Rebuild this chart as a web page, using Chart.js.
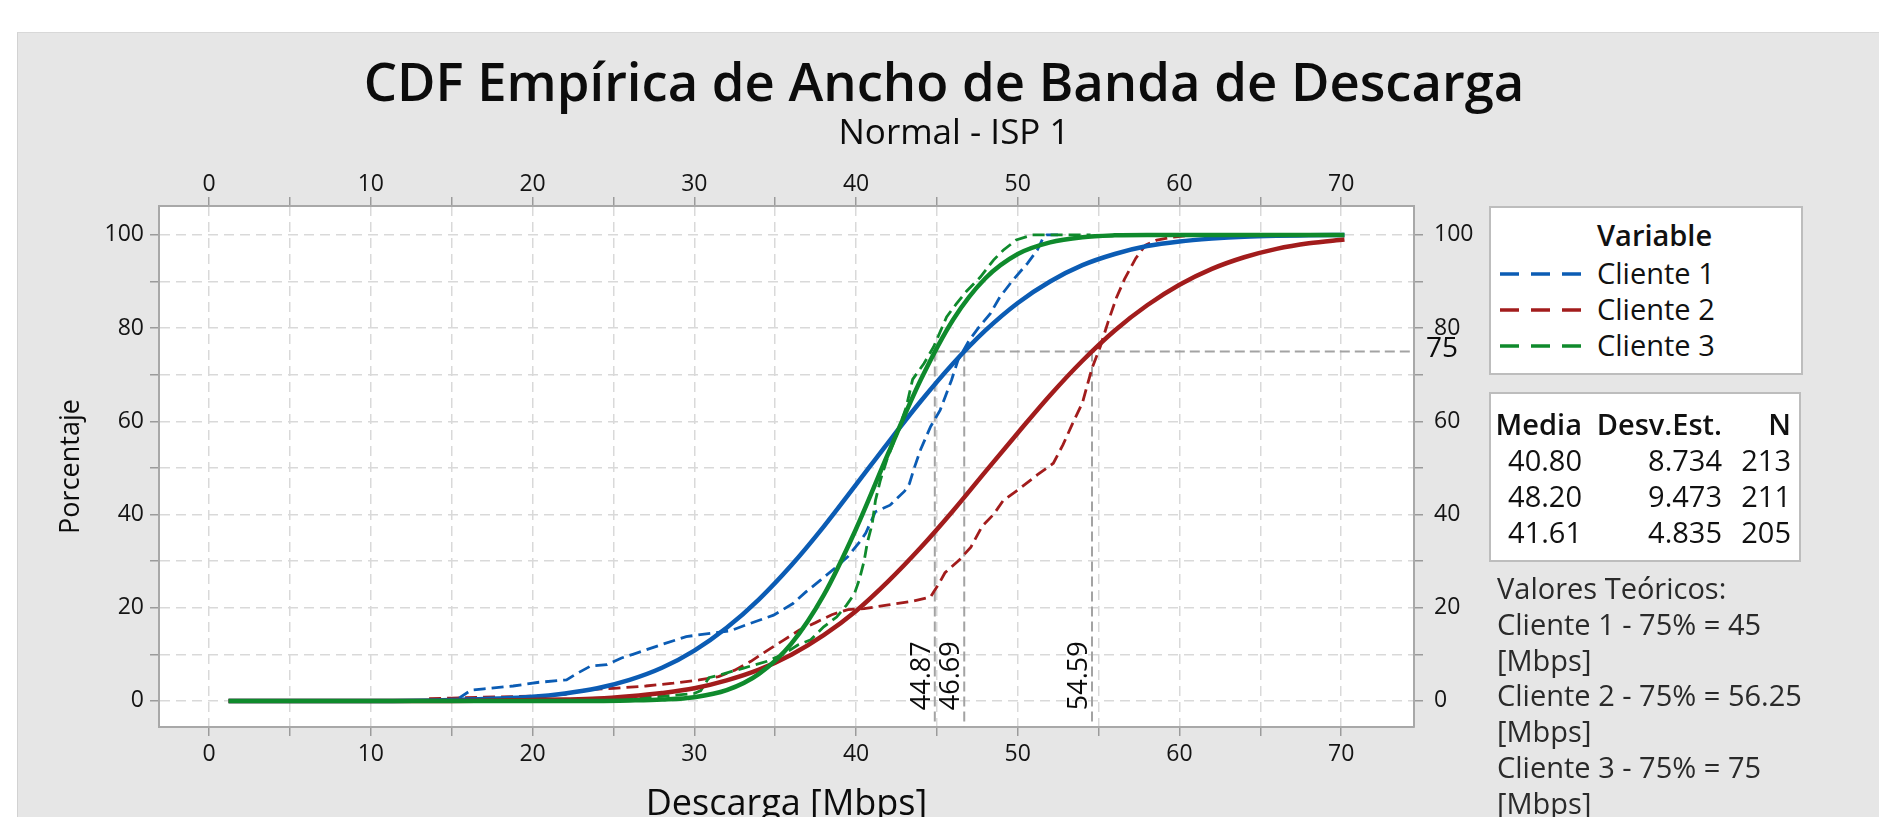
<!DOCTYPE html>
<html lang="es">
<head>
<meta charset="utf-8">
<title>CDF Empírica de Ancho de Banda de Descarga</title>
<script src="https://cdn.jsdelivr.net/npm/chart.js@4.4.1/dist/chart.umd.min.js"></script>
<style>
  body { margin: 0; background: #fff; }
  #wrap { position: relative; width: 1879px; height: 817px; overflow: hidden; background: #fff;
          font-family: "Open Sans", sans-serif; color: #111; }
  #panel { position: absolute; left: 17px; top: 32px; right: 0; bottom: 0; background: #e6e6e6;
           border-left: 1px solid #d2d2d2; border-top: 1px solid #d8d8d8; }
  #cdfChart { position: absolute; left: 0; top: 0; }
  .txt { position: absolute; white-space: nowrap; line-height: 1; }
  #mainTitle { left: 944px; top: 55px; transform: translateX(-50%); font-size: 52.6px; font-weight: 600; color: #0c0c0c; }
  #subTitle { left: 954px; top: 113px; transform: translateX(-50%); font-size: 35px; font-weight: 500; color: #0c0c0c; }
  .box { position: absolute; left: 1489px; background: #fff; border: 2px solid #bdbdbd; box-sizing: border-box; }
  #legendBox { top: 206px; width: 314px; height: 169px; }
  #statsBox { top: 392px; width: 312px; height: 170px; }
  .side { font-size: 29px; font-weight: 500; }
  .head { font-weight: 600; }
  #notes { position: absolute; left: 1497px; top: 570px; font-size: 29px; line-height: 35.8px; color: #2a2a2a; white-space: nowrap; }
</style>
</head>
<body>
<div id="wrap">
  <div id="panel"></div>
  <canvas id="cdfChart" width="1879" height="817"></canvas>
  <div id="mainTitle" class="txt">CDF Empírica de Ancho de Banda de Descarga</div>
  <div id="subTitle" class="txt">Normal - ISP 1</div>
  <div id="legendBox" class="box"></div>
  <div id="statsBox" class="box"></div>
  <div id="side"></div>
  <div id="notes"></div>
</div>
<script>
// Series names and summary table
const seriesNames = ["Cliente 1", "Cliente 2", "Cliente 3"];
const statMedia = ["40.80", "48.20", "41.61"];
const statDesv = ["8.734", "9.473", "4.835"];
const statN = ["213", "211", "205"];
const noteLines = ["Valores Teóricos:", "Cliente 1 - 75% = 45", "[Mbps]", "Cliente 2 - 75% = 56.25", "[Mbps]", "Cliente 3 - 75% = 75", "[Mbps]"];

// Axis ticks (grid every 5 / 10, labels every 10 / 20)
const xGrid = [0, 5, 10, 15, 20, 25, 30, 35, 40, 45, 50, 55, 60, 65, 70];
const yGrid = [0, 10, 20, 30, 40, 50, 60, 70, 80, 90, 100];

// Fitted normal CDFs (solid)
const fitX = [1.2, 5, 10, 15, 20, 22, 24, 26, 28, 30, 32, 34, 36, 38, 40, 42, 44, 46, 48, 50, 52, 54, 56, 58, 60, 62, 64, 66, 68, 70.2];
const fitCliente1 = [0, 0, 0, 0.2, 0.9, 1.6, 2.7, 4.5, 7.1, 10.8, 15.7, 21.8, 29.1, 37.4, 46.4, 55.5, 64.3, 72.4, 79.5, 85.4, 90.0, 93.5, 95.9, 97.6, 98.6, 99.2, 99.6, 99.8, 99.9, 100];
const fitCliente2 = [0, 0, 0, 0, 0.2, 0.3, 0.5, 1.0, 1.7, 2.7, 4.4, 6.7, 9.9, 14.1, 19.3, 25.7, 32.9, 40.8, 49.2, 57.5, 65.6, 73.0, 79.5, 84.9, 89.3, 92.7, 95.2, 97.0, 98.2, 99.0];
const fitCliente3 = [0, 0, 0, 0, 0, 0, 0, 0.1, 0.3, 0.8, 2.3, 5.8, 12.3, 22.7, 36.9, 53.2, 68.9, 81.8, 90.7, 95.9, 98.4, 99.5, 99.9, 100, 100, 100, 100, 100, 100, 100];

// Empirical CDFs (dashed)
const empX1 = [15.4, 16.2, 17.0, 18.8, 20.4, 22.1, 22.7, 23.6, 24.6, 25.5, 26.2, 27.9, 29.5, 31.2, 32.2, 33.2, 34.9, 36.1, 36.9, 37.8, 38.8, 39.5, 40.2, 40.6, 41.2, 42.1, 43.0, 43.3, 43.6, 44.0, 44.6, 45.2, 45.9, 46.3, 47.0, 47.6, 48.3, 48.9, 49.7, 50.6, 51.2, 51.6, 51.8, 52.5];
const empY1 = [0.5, 2.3, 2.6, 3.2, 4.0, 4.5, 5.8, 7.5, 7.8, 9.2, 10.0, 12.0, 13.8, 14.6, 15.0, 16.3, 18.4, 20.9, 23.4, 25.9, 28.8, 31.0, 34.0, 36.0, 40.6, 42.0, 45.0, 46.6, 50.0, 54.0, 58.8, 62.4, 68.8, 73.1, 77.4, 80.2, 83.1, 86.7, 90.3, 93.9, 96.7, 99.6, 100, 100];
const empX2 = [13.6, 15.0, 17.0, 20.0, 22.0, 23.3, 25.0, 27.0, 28.7, 30.3, 31.5, 32.5, 33.5, 34.5, 35.5, 36.5, 37.5, 38.5, 39.5, 40.5, 42.0, 43.5, 44.6, 45.1, 45.5, 46.4, 47.1, 47.8, 48.5, 49.1, 50.1, 51.2, 52.2, 52.8, 53.4, 54.0, 54.6, 55.1, 55.6, 56.1, 56.6, 57.3, 57.9, 58.6, 59.5, 61.0];
const empY2 = [0.5, 0.6, 0.8, 1.0, 1.4, 2.4, 2.7, 3.2, 3.8, 4.5, 5.2, 6.6, 8.5, 10.8, 13.0, 15.2, 16.8, 18.5, 19.6, 19.8, 20.6, 21.4, 22.3, 25.0, 27.5, 30.3, 33.0, 37.5, 40.0, 43.0, 45.5, 48.5, 51.0, 55.0, 59.6, 64.0, 71.5, 76.0, 81.5, 86.5, 90.5, 95.0, 97.8, 98.9, 99.5, 100];
const empX3 = [25.5, 28.0, 30.0, 30.4, 30.9, 31.5, 33.0, 34.5, 35.5, 36.4, 37.2, 38.0, 38.8, 39.4, 39.9, 40.2, 40.5, 40.7, 41.0, 41.2, 41.5, 41.9, 42.5, 43.1, 43.5, 44.2, 44.8, 45.6, 46.2, 46.8, 47.7, 48.5, 49.1, 49.9, 50.9, 54.5];
const empY3 = [0.5, 1.0, 1.6, 2.2, 5.0, 5.5, 7.0, 8.5, 10.0, 12.0, 13.1, 15.9, 18.0, 20.5, 23.0, 26.0, 30.0, 34.0, 38.0, 43.0, 47.3, 51.7, 57.0, 63.0, 69.0, 72.4, 76.0, 82.4, 85.2, 87.8, 91.0, 94.6, 96.7, 98.9, 100, 100];

// 75th percentile reference
const refPct = 75;
const refX = [44.87, 46.69, 54.59];

const xMin = -3.1, xMax = 74.5, yMin = -5.6, yMax = 106.2;
const family = "'Open Sans', sans-serif";
const colors = ["#0b5cb4", "#a21c1c", "#0f8a2c"];

function pts(xs, ys) {
  return xs.map((x, i) => ({ x, y: ys[i] }));
}

// Side texts: legend, stats table, notes
const side = document.getElementById("side");
function addText(html, style, cls) {
  const d = document.createElement("div");
  d.className = "txt side " + (cls || "");
  d.innerHTML = html;
  Object.assign(d.style, style);
  side.appendChild(d);
}
addText("Variable", { left: "1597px", top: "220px" }, "head");
seriesNames.forEach((name, i) => {
  const cy = 273 + 36.2 * i;
  addText(name, { left: "1597px", top: (257.5 + 36.2 * i) + "px" });
  const svg = `<svg width="84" height="10"><line x1="0" y1="5" x2="84" y2="5" stroke="${colors[i]}" stroke-width="3.3" stroke-dasharray="19 12"/></svg>`;
  addText(svg, { left: "1500px", top: (cy - 5) + "px", lineHeight: "0" });
});
const colRight = [1879 - 1582, 1879 - 1722, 1879 - 1791];
["Media", "Desv.Est.", "N"].forEach((h, c) => {
  addText(h, { right: colRight[c] + "px", top: "409px" }, "head");
});
statMedia.forEach((m, i) => {
  const top = (445 + 36.2 * i) + "px";
  addText(m, { right: colRight[0] + "px", top });
  addText(statDesv[i], { right: colRight[1] + "px", top });
  addText(statN[i], { right: colRight[2] + "px", top });
});
document.getElementById("notes").innerHTML = noteLines.join("<br>");

// White plot area
const plotBackground = {
  id: "plotBackground",
  beforeDraw(chart) {
    const { ctx, chartArea: a } = chart;
    ctx.save();
    ctx.fillStyle = "#ffffff";
    ctx.fillRect(a.left, a.top, a.right - a.left, a.bottom - a.top);
    ctx.restore();
  }
};

// Percentile labels on the vertical lines and the 75 mark on the right axis
const refLabels = {
  id: "refLabels",
  afterDatasetsDraw(chart) {
    const { ctx, scales: { x, y }, chartArea } = chart;
    ctx.save();
    ctx.fillStyle = "#0c0c0c";
    ctx.font = `500 27px ${family}`;
    ctx.textAlign = "left";
    ctx.textBaseline = "alphabetic";
    refX.forEach(v => {
      ctx.save();
      ctx.translate(x.getPixelForValue(v) - 5, y.getPixelForValue(-2));
      ctx.rotate(-Math.PI / 2);
      ctx.fillText(v.toFixed(2), 0, 0);
      ctx.restore();
    });
    ctx.font = `500 28px ${family}`;
    ctx.textBaseline = "middle";
    ctx.fillText(String(refPct), chartArea.right + 12, y.getPixelForValue(refPct) - 2);
    ctx.restore();
  }
};

function xAxis(position) {
  const top = position === "top";
  return {
    type: "linear", position, min: xMin, max: xMax,
    afterBuildTicks: s => { s.ticks = xGrid.map(v => ({ value: v })); },
    afterFit: s => { s.height = top ? 50 : 90; },
    ticks: {
      font: { family, size: 23, weight: 500 }, color: "#141414", padding: top ? -1.5 : 5,
      maxRotation: 0, autoSkip: false,
      callback: v => (v % 10 === 0 ? v : "")
    },
    grid: { drawOnChartArea: !top, color: "#d9d9d9", lineWidth: 1.5, tickLength: 9, tickColor: "#9b9b9b", tickWidth: 1.5 },
    border: { color: "#a8a8a8", width: 2, dash: [10, 6] },
    title: top ? { display: false } : {
      display: true, text: "Descarga [Mbps]", color: "#0c0c0c",
      font: { family, size: 36, weight: 500, lineHeight: 1 }, padding: { top: 0, bottom: -6 }
    }
  };
}

function yAxis(position) {
  const left = position === "left";
  return {
    type: "linear", position, min: yMin, max: yMax,
    afterBuildTicks: s => { s.ticks = yGrid.map(v => ({ value: v })); },
    afterFit: s => { s.width = left ? 159 : 60; },
    ticks: {
      font: { family, size: 23, weight: 500 }, color: "#141414", padding: left ? 6 : 11,
      callback: v => (v % 20 === 0 ? v : "")
    },
    grid: { drawOnChartArea: left, color: "#d9d9d9", lineWidth: 1.5, tickLength: 9, tickColor: "#9b9b9b", tickWidth: 1.5 },
    border: { color: "#a8a8a8", width: 2, dash: [10, 6] },
    title: left ? {
      display: true, text: "Porcentaje", color: "#0c0c0c",
      font: { family, size: 27, weight: 500, lineHeight: 1 }, padding: { top: 57.5, bottom: 0 }
    } : { display: false }
  };
}

const refStyle = { borderColor: "#a3a3a3", borderWidth: 2, borderDash: [10, 5], pointRadius: 0, order: 10, tension: 0 };
const datasets = [
  { label: "Cliente 1", data: pts(empX1, empY1), borderColor: colors[0], borderWidth: 2.8, borderDash: [12, 6], pointRadius: 0, tension: 0, order: 6 },
  { label: "Cliente 2", data: pts(empX2, empY2), borderColor: colors[1], borderWidth: 2.8, borderDash: [12, 6], pointRadius: 0, tension: 0, order: 5 },
  { label: "Cliente 3", data: pts(empX3, empY3), borderColor: colors[2], borderWidth: 2.8, borderDash: [12, 6], pointRadius: 0, tension: 0, order: 4 },
  { label: "Normal Cliente 1", data: pts(fitX, fitCliente1), borderColor: colors[0], borderWidth: 4.5, pointRadius: 0, cubicInterpolationMode: "monotone", order: 3 },
  { label: "Normal Cliente 2", data: pts(fitX, fitCliente2), borderColor: colors[1], borderWidth: 4.5, pointRadius: 0, cubicInterpolationMode: "monotone", order: 2 },
  { label: "Normal Cliente 3", data: pts(fitX, fitCliente3), borderColor: colors[2], borderWidth: 4.5, pointRadius: 0, cubicInterpolationMode: "monotone", order: 1 },
  { label: "75%", data: [{ x: refX[0], y: refPct }, { x: xMax, y: refPct }], ...refStyle }
];
refX.forEach(v => {
  datasets.push({ label: "P75 " + v, data: [{ x: v, y: refPct }, { x: v, y: yMin }], ...refStyle });
});

new Chart(document.getElementById("cdfChart"), {
  type: "line",
  data: { datasets },
  options: {
    responsive: false,
    animation: false,
    parsing: false,
    layout: { padding: { left: 0, right: 405, top: 156, bottom: 0 } },
    plugins: { legend: { display: false }, tooltip: { enabled: false }, title: { display: false } },
    scales: {
      x: xAxis("bottom"),
      x2: xAxis("top"),
      y: yAxis("left"),
      y2: yAxis("right")
    }
  },
  plugins: [plotBackground, refLabels]
});
</script>
</body>
</html>
